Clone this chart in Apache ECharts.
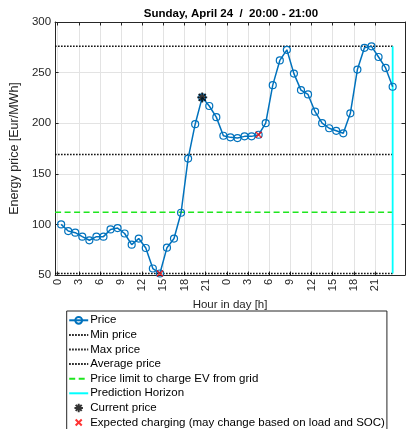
<!DOCTYPE html>
<html>
<head>
<meta charset="utf-8">
<script src="https://cdn.jsdelivr.net/npm/echarts@6/dist/echarts.min.js"></script>
<style>html,body{margin:0;padding:0;background:#fff;}#c{width:408px;height:429px;}</style>
</head>
<body>
<div id="c"></div>
<script>
// ---- data ----
const hourTicks = [0, 3, 6, 9, 12, 15, 18, 21, 24, 27, 30, 33, 36, 39, 42, 45];
const price = [100, 93.4, 91.8, 87.9, 84.3, 87.9, 87.9, 95, 96.4, 91, 80, 86,
               76.7, 56.4, 51.5, 77, 86, 111.5, 165, 199, 225.5, 217, 206, 187.6,
               186, 185.3, 187, 187, 188.6, 200, 237.6, 262, 272.5, 249, 232.7, 228.4,
               211.4, 200, 195, 192.5, 190, 209.8, 253, 274.5, 276, 265.4, 254.6, 236];
const minPrice = 51.5;
const maxPrice = 276;
const avgPrice = 169.1;
const limitPrice = 112;
const horizonHour = 47.5;
const currentSlot = [20];          // index into price
const chargingSlots = [14, 28];    // indices into price
const legendNames = ['Price', 'Min price', 'Max price', 'Average price', 'Price limit to charge EV from grid',
                     'Prediction Horizon', 'Current price', 'Expected charging (may change based on load and SOC)'];

const X_MIN = -0.36, X_MAX = 49.25;
const FONT = "'Liberation Sans', Arial, Helvetica, sans-serif";
const AX = '#262626';

const priceData = price.map((v, i) => [i + 0.5, v]);
const hline = v => [[X_MIN, v], [horizonHour, v]];

const chart = echarts.init(document.getElementById('c'), null, {renderer: 'canvas'});
const starPath = 'path://M0,-5L0,5M-5,0L5,0M-3.54,-3.54L3.54,3.54M-3.54,3.54L3.54,-3.54';
const xPath = 'path://M-2.8,-2.8M2.8,2.8M-2,-2L2,2M-2,2L2,-2';
const noSym = {color: 'rgba(0,0,0,0)', borderWidth: 0, borderColor: 'rgba(0,0,0,0)', opacity: 0};

chart.setOption({
  animation: false,
  backgroundColor: '#fff',
  title: {
    text: 'Sunday, April 24  /  20:00 - 21:00',
    left: 226, top: 3, textAlign: 'center',
    textStyle: {fontFamily: FONT, fontSize: 11.5, fontWeight: 'bold', color: '#000'}
  },
  grid: {left: 46.7, right: 3, top: 22, bottom: 154, containLabel: false},
  legend: {
    orient: 'vertical', left: 66.7, top: 311, height: 160,
    backgroundColor: '#fff', borderColor: AX, borderWidth: 1, borderRadius: 0,
    padding: [2, 2, 4, 1.5],
    itemWidth: 19, itemHeight: 8.5, itemGap: 0,
    textStyle: {fontFamily: FONT, fontSize: 11.5, color: '#000', lineHeight: 14.6, padding: [0, 0, 0, -3]},
    data: legendNames.map((n, i) => (i >= 1 && i <= 5) ? {name: n, itemStyle: noSym} : {name: n})
  },
  xAxis: [{
    type: 'value', min: X_MIN, max: X_MAX, position: 'bottom',
    name: 'Hour in day [h]', nameLocation: 'middle', nameGap: 21,
    nameTextStyle: {fontFamily: FONT, fontSize: 11.5, color: AX},
    axisLine: {show: true, onZero: false, lineStyle: {color: AX, width: 1}},
    axisTick: {show: true, inside: true, length: 3.5, customValues: hourTicks, lineStyle: {color: AX}},
    axisLabel: {show: true, customValues: hourTicks, rotate: 90, margin: 4, fontFamily: FONT, fontSize: 11, color: AX,
                formatter: v => String(Math.round(v) % 24)},
    splitLine: {show: true, lineStyle: {color: '#e3e3e3', width: 1}}
  }, {
    type: 'value', min: X_MIN, max: X_MAX, position: 'top',
    axisLine: {show: true, onZero: false, lineStyle: {color: AX, width: 1}},
    axisTick: {show: true, inside: true, length: 3.5, customValues: hourTicks, lineStyle: {color: AX}},
    axisLabel: {show: false}, splitLine: {show: false}
  }],
  yAxis: [{
    type: 'value', min: 50, max: 300, interval: 50, position: 'left',
    name: 'Energy price [Eur/MWh]', nameLocation: 'middle', nameGap: 23,
    nameTextStyle: {fontFamily: FONT, fontSize: 12.5, color: AX},
    axisLine: {show: true, onZero: false, lineStyle: {color: AX, width: 1}},
    axisTick: {show: true, inside: true, length: 3.5, lineStyle: {color: AX}},
    axisLabel: {show: true, margin: 4, fontFamily: FONT, fontSize: 11.5, color: AX},
    splitLine: {show: true, lineStyle: {color: '#e3e3e3', width: 1}}
  }, {
    type: 'value', min: 50, max: 300, interval: 50, position: 'right',
    axisLine: {show: true, onZero: false, lineStyle: {color: AX, width: 1}},
    axisTick: {show: true, inside: true, length: 3.5, lineStyle: {color: AX}},
    axisLabel: {show: false}, splitLine: {show: false}
  }],
  series: [
    {name: 'Price', type: 'line', data: priceData, z: 5,
     symbol: 'circle', symbolSize: 7,
     itemStyle: {color: 'rgba(0,0,0,0)', borderColor: '#0072BD', borderWidth: 1.2},
     lineStyle: {color: '#0072BD', width: 1.5}},
    {name: 'Min price', type: 'line', data: hline(minPrice), symbol: 'none', z: 3,
     itemStyle: {color: '#000'}, lineStyle: {color: '#000', width: 1.5, type: [1.5, 1.5]}},
    {name: 'Max price', type: 'line', data: hline(maxPrice), symbol: 'none', z: 3,
     itemStyle: {color: '#000'}, lineStyle: {color: '#000', width: 1.5, type: [1.5, 1.5]}},
    {name: 'Average price', type: 'line', data: hline(avgPrice), symbol: 'none', z: 3,
     itemStyle: {color: '#000'}, lineStyle: {color: '#000', width: 1.5, type: [1.5, 1.5]}},
    {name: 'Price limit to charge EV from grid', type: 'line', data: hline(limitPrice), symbol: 'none', z: 3,
     itemStyle: {color: '#1ee61e'}, lineStyle: {color: '#1ee61e', width: 1.5, type: [6, 3.5]}},
    {name: 'Prediction Horizon', type: 'line', data: [[horizonHour, minPrice], [horizonHour, maxPrice]], symbol: 'none', z: 3,
     itemStyle: {color: '#00ffff'}, lineStyle: {color: '#00ffff', width: 1.8}},
    {name: 'Current price', type: 'scatter', z: 6,
     data: currentSlot.map(i => [i + 0.5, price[i]]),
     symbol: starPath, symbolSize: 10, symbolKeepAspect: true,
     itemStyle: {color: 'none', borderColor: '#000', borderWidth: 1.8}},
    {name: 'Expected charging (may change based on load and SOC)', type: 'scatter', z: 7,
     data: chargingSlots.map(i => [i + 0.5, price[i]]),
     symbol: xPath, symbolSize: 8.4, symbolKeepAspect: true,
     itemStyle: {color: 'none', borderColor: '#ff0000', borderWidth: 1.4}}
  ]
});
</script>
</body>
</html>
